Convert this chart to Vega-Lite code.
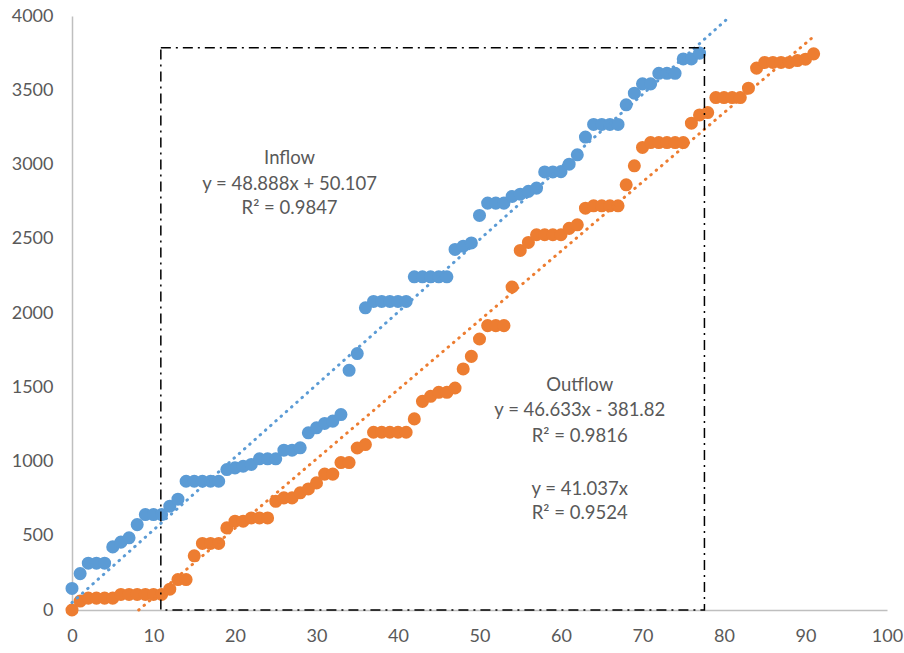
{
  "$schema": "https://vega.github.io/schema/vega-lite/v6.json",
  "width": 815,
  "height": 594,
  "autosize": {"type": "none"},
  "padding": {"left": 72, "top": 16, "right": 17, "bottom": 43},
  "background": "white",
  "config": {"view": {"stroke": null}, "font": "Lato"},
  "datasets": {
    "points": [
      {"series":"Inflow","x":0,"y":145},{"series":"Inflow","x":1,"y":245},{"series":"Inflow","x":2,"y":315},{"series":"Inflow","x":3,"y":315},{"series":"Inflow","x":4,"y":315},{"series":"Inflow","x":5,"y":425},{"series":"Inflow","x":6,"y":457},{"series":"Inflow","x":7,"y":486},{"series":"Inflow","x":8,"y":575},{"series":"Inflow","x":9,"y":643},{"series":"Inflow","x":10,"y":643},{"series":"Inflow","x":11,"y":643},{"series":"Inflow","x":12,"y":699},{"series":"Inflow","x":13,"y":746},{"series":"Inflow","x":14,"y":867},{"series":"Inflow","x":15,"y":867},{"series":"Inflow","x":16,"y":867},{"series":"Inflow","x":17,"y":867},{"series":"Inflow","x":18,"y":867},{"series":"Inflow","x":19,"y":946},{"series":"Inflow","x":20,"y":957},{"series":"Inflow","x":21,"y":968},{"series":"Inflow","x":22,"y":980},{"series":"Inflow","x":23,"y":1018},{"series":"Inflow","x":24,"y":1018},{"series":"Inflow","x":25,"y":1018},{"series":"Inflow","x":26,"y":1076},{"series":"Inflow","x":27,"y":1076},{"series":"Inflow","x":28,"y":1092},{"series":"Inflow","x":29,"y":1193},{"series":"Inflow","x":30,"y":1227},{"series":"Inflow","x":31,"y":1256},{"series":"Inflow","x":32,"y":1272},{"series":"Inflow","x":33,"y":1316},{"series":"Inflow","x":34,"y":1614},{"series":"Inflow","x":35,"y":1727},{"series":"Inflow","x":36,"y":2035},{"series":"Inflow","x":37,"y":2078},{"series":"Inflow","x":38,"y":2078},{"series":"Inflow","x":39,"y":2078},{"series":"Inflow","x":40,"y":2078},{"series":"Inflow","x":41,"y":2078},{"series":"Inflow","x":42,"y":2244},{"series":"Inflow","x":43,"y":2244},{"series":"Inflow","x":44,"y":2244},{"series":"Inflow","x":45,"y":2244},{"series":"Inflow","x":46,"y":2244},{"series":"Inflow","x":47,"y":2428},{"series":"Inflow","x":48,"y":2450},{"series":"Inflow","x":49,"y":2472},{"series":"Inflow","x":50,"y":2657},{"series":"Inflow","x":51,"y":2740},{"series":"Inflow","x":52,"y":2740},{"series":"Inflow","x":53,"y":2740},{"series":"Inflow","x":54,"y":2785},{"series":"Inflow","x":55,"y":2800},{"series":"Inflow","x":56,"y":2819},{"series":"Inflow","x":57,"y":2841},{"series":"Inflow","x":58,"y":2950},{"series":"Inflow","x":59,"y":2950},{"series":"Inflow","x":60,"y":2952},{"series":"Inflow","x":61,"y":3002},{"series":"Inflow","x":62,"y":3065},{"series":"Inflow","x":63,"y":3185},{"series":"Inflow","x":64,"y":3270},{"series":"Inflow","x":65,"y":3270},{"series":"Inflow","x":66,"y":3270},{"series":"Inflow","x":67,"y":3270},{"series":"Inflow","x":68,"y":3402},{"series":"Inflow","x":69,"y":3480},{"series":"Inflow","x":70,"y":3543},{"series":"Inflow","x":71,"y":3543},{"series":"Inflow","x":72,"y":3614},{"series":"Inflow","x":73,"y":3614},{"series":"Inflow","x":74,"y":3614},{"series":"Inflow","x":75,"y":3711},{"series":"Inflow","x":76,"y":3711},{"series":"Inflow","x":77,"y":3750},
      {"series":"Outflow","x":0,"y":0},{"series":"Outflow","x":1,"y":60},{"series":"Outflow","x":2,"y":80},{"series":"Outflow","x":3,"y":80},{"series":"Outflow","x":4,"y":80},{"series":"Outflow","x":5,"y":80},{"series":"Outflow","x":6,"y":105},{"series":"Outflow","x":7,"y":105},{"series":"Outflow","x":8,"y":105},{"series":"Outflow","x":9,"y":105},{"series":"Outflow","x":10,"y":105},{"series":"Outflow","x":11,"y":105},{"series":"Outflow","x":12,"y":140},{"series":"Outflow","x":13,"y":205},{"series":"Outflow","x":14,"y":205},{"series":"Outflow","x":15,"y":365},{"series":"Outflow","x":16,"y":448},{"series":"Outflow","x":17,"y":448},{"series":"Outflow","x":18,"y":448},{"series":"Outflow","x":19,"y":553},{"series":"Outflow","x":20,"y":598},{"series":"Outflow","x":21,"y":598},{"series":"Outflow","x":22,"y":620},{"series":"Outflow","x":23,"y":620},{"series":"Outflow","x":24,"y":620},{"series":"Outflow","x":25,"y":732},{"series":"Outflow","x":26,"y":755},{"series":"Outflow","x":27,"y":755},{"series":"Outflow","x":28,"y":789},{"series":"Outflow","x":29,"y":815},{"series":"Outflow","x":30,"y":856},{"series":"Outflow","x":31,"y":915},{"series":"Outflow","x":32,"y":915},{"series":"Outflow","x":33,"y":993},{"series":"Outflow","x":34,"y":993},{"series":"Outflow","x":35,"y":1091},{"series":"Outflow","x":36,"y":1114},{"series":"Outflow","x":37,"y":1197},{"series":"Outflow","x":38,"y":1197},{"series":"Outflow","x":39,"y":1197},{"series":"Outflow","x":40,"y":1197},{"series":"Outflow","x":41,"y":1197},{"series":"Outflow","x":42,"y":1287},{"series":"Outflow","x":43,"y":1405},{"series":"Outflow","x":44,"y":1439},{"series":"Outflow","x":45,"y":1466},{"series":"Outflow","x":46,"y":1466},{"series":"Outflow","x":47,"y":1495},{"series":"Outflow","x":48,"y":1623},{"series":"Outflow","x":49,"y":1708},{"series":"Outflow","x":50,"y":1825},{"series":"Outflow","x":51,"y":1915},{"series":"Outflow","x":52,"y":1915},{"series":"Outflow","x":53,"y":1915},{"series":"Outflow","x":54,"y":2175},{"series":"Outflow","x":55,"y":2421},{"series":"Outflow","x":56,"y":2475},{"series":"Outflow","x":57,"y":2527},{"series":"Outflow","x":58,"y":2527},{"series":"Outflow","x":59,"y":2527},{"series":"Outflow","x":60,"y":2527},{"series":"Outflow","x":61,"y":2570},{"series":"Outflow","x":62,"y":2594},{"series":"Outflow","x":63,"y":2706},{"series":"Outflow","x":64,"y":2722},{"series":"Outflow","x":65,"y":2722},{"series":"Outflow","x":66,"y":2722},{"series":"Outflow","x":67,"y":2722},{"series":"Outflow","x":68,"y":2863},{"series":"Outflow","x":69,"y":2991},{"series":"Outflow","x":70,"y":3115},{"series":"Outflow","x":71,"y":3148},{"series":"Outflow","x":72,"y":3148},{"series":"Outflow","x":73,"y":3148},{"series":"Outflow","x":74,"y":3148},{"series":"Outflow","x":75,"y":3148},{"series":"Outflow","x":76,"y":3278},{"series":"Outflow","x":77,"y":3334},{"series":"Outflow","x":78,"y":3350},{"series":"Outflow","x":79,"y":3451},{"series":"Outflow","x":80,"y":3451},{"series":"Outflow","x":81,"y":3451},{"series":"Outflow","x":82,"y":3451},{"series":"Outflow","x":83,"y":3514},{"series":"Outflow","x":84,"y":3649},{"series":"Outflow","x":85,"y":3687},{"series":"Outflow","x":86,"y":3687},{"series":"Outflow","x":87,"y":3687},{"series":"Outflow","x":88,"y":3687},{"series":"Outflow","x":89,"y":3700},{"series":"Outflow","x":90,"y":3709},{"series":"Outflow","x":91,"y":3745}
    ],
    "trend": [
      {"series":"Inflow","x":0,"y":50.107},{"series":"Inflow","x":80.8,"y":4000},
      {"series":"Outflow","x":8.19,"y":0},{"series":"Outflow","x":91,"y":3861.8}
    ],
    "box": [{"x":10.9,"x2":77.6,"y":0,"y2":3787}],
    "notes": [
      {"x":26.7,"y":3045,"label":"Inflow"},
      {"x":26.7,"y":2870,"label":"y = 48.888x + 50.107"},
      {"x":26.7,"y":2709,"label":"R² = 0.9847"},
      {"x":62.3,"y":1517,"label":"Outflow"},
      {"x":62.3,"y":1349,"label":"y = 46.633x - 381.82"},
      {"x":62.3,"y":1174,"label":"R² = 0.9816"},
      {"x":62.3,"y":818,"label":"y = 41.037x"},
      {"x":62.3,"y":650,"label":"R² = 0.9524"}
    ]
  },
  "encoding": {
    "x": {"field":"x","type":"quantitative","scale":{"domain":[0,100],"nice":false,"zero":false},
      "axis":{"title":null,"values":[0,10,20,30,40,50,60,70,80,90,100],"format":"d","grid":false,"ticks":false,"domainColor":"#BFBFBF","domainWidth":1.5,"labelFont":"Lato","labelFontSize":18,"labelColor":"#595959","labelPadding":17,"labelFlush":false}},
    "y": {"field":"y","type":"quantitative","scale":{"domain":[0,4000],"nice":false},
      "axis":{"title":null,"values":[0,500,1000,1500,2000,2500,3000,3500,4000],"format":"d","grid":false,"ticks":false,"domainColor":"#BFBFBF","domainWidth":1.5,"labelFont":"Lato","labelFontSize":18,"labelColor":"#595959","labelPadding":19,"labelFlush":false}}
  },
  "layer": [
    {
      "data": {"name":"points"},
      "mark": {"type":"circle","size":170,"opacity":1},
      "encoding": {
        "color": {"field":"series","type":"nominal","scale":{"domain":["Inflow","Outflow"],"range":["#5B9BD5","#ED7D31"]},"legend":null}
      }
    },
    {
      "data": {"name":"trend"},
      "mark": {"type":"line","strokeWidth":3,"strokeDash":[0.5,6.5],"strokeCap":"round"},
      "encoding": {
        "detail": {"field":"series"},
        "color": {"field":"series","type":"nominal","scale":{"domain":["Inflow","Outflow"],"range":["#5B9BD5","#ED7D31"]},"legend":null}
      }
    },
    {
      "data": {"name":"box"},
      "mark": {"type":"rect","fill":null,"fillOpacity":0,"stroke":"#000000","strokeWidth":1.5,"strokeDash":[10,5,2,5]},
      "encoding": {
        "x2": {"field":"x2"},
        "y2": {"field":"y2"}
      }
    },
    {
      "data": {"name":"notes"},
      "mark": {"type":"text","font":"Lato","fontSize":18.5,"color":"#595959","align":"center","baseline":"middle"},
      "encoding": {
        "text": {"field":"label"}
      }
    }
  ]
}
